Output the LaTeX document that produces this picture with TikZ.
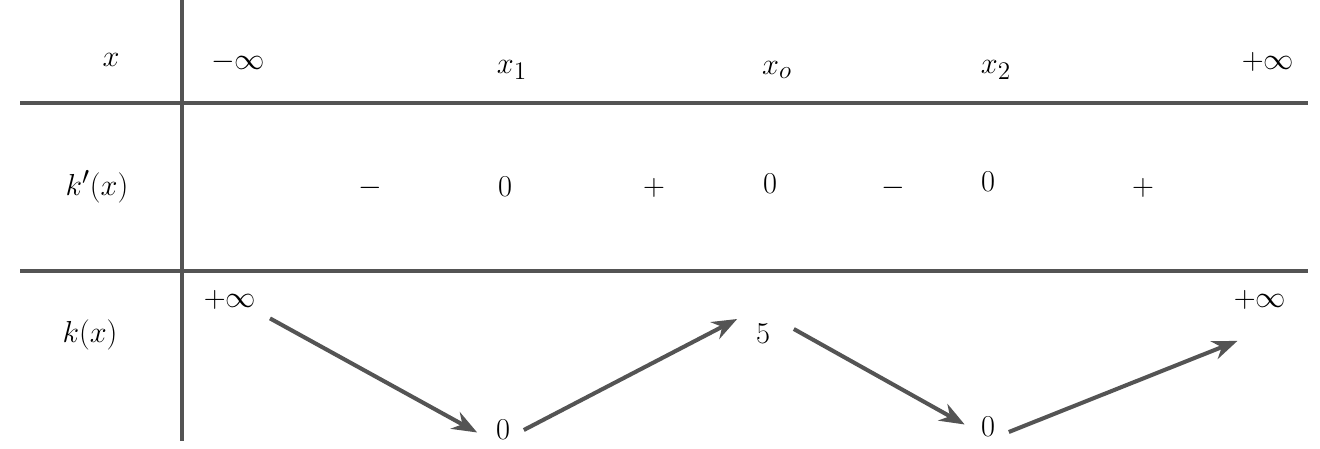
\documentclass[tikz,border=0pt]{standalone}
\usetikzlibrary{arrows.meta}
\begin{document}
\begin{tikzpicture}[x=0.02cm,y=-0.02cm,
  rule/.style={draw=black!67,line width=2.3pt},
  arr/.style={draw=black!67,line width=2.3pt,-{Stealth[length=0.5cm,width=0.38cm]}},
  lbl/.style={font=\fontsize{19}{22}\selectfont,inner sep=2pt}]
\useasboundingbox (0,0) rectangle (1320,449);
\draw[rule] (20,103) -- (1308,103);
\draw[rule] (20,271) -- (1308,271);
\draw[rule] (182,0) -- (182,441);
\node[lbl] (hx) at (111,60) {$x$};
\node[lbl] (minf) at (238,62) {$-\infty$};
\node[lbl] (x1) at (512,70) {$x_1$};
\node[lbl] (xo) at (777,70) {$x_o$};
\node[lbl] (x2) at (996,70) {$x_2$};
\node[lbl] (pinf) at (1268,62) {$+\infty$};
\node[lbl] (kp) at (97,187) {$k'(x)$};
\node[lbl] (s1) at (370,188) {$-$};
\node[lbl] (z1) at (505,187) {$0$};
\node[lbl] (s2) at (654,188) {$+$};
\node[lbl] (z2) at (770,184) {$0$};
\node[lbl] (s3) at (893,188) {$-$};
\node[lbl] (z3) at (988,182) {$0$};
\node[lbl] (s4) at (1143,188) {$+$};
\node[lbl] (k) at (90,335) {$k(x)$};
\node[lbl] (a) at (230,300) {$+\infty$};
\node[lbl] (b) at (503,430) {$0$};
\node[lbl] (c) at (763,334) {$5$};
\node[lbl] (d) at (988,427) {$0$};
\node[lbl] (e) at (1260,300) {$+\infty$};
\draw[arr] ([xshift=0.8cm,yshift=-0.1cm]a.south) -- ([xshift=-0.3cm,yshift=-0.05cm]b.west);
\draw[arr] ([xshift=0.2cm]b.east) -- ([xshift=-0.3cm,yshift=0.3cm]c.west);
\draw[arr] ([xshift=0.4cm,yshift=0.1cm]c.east) -- ([xshift=-0.25cm,yshift=0.05cm]d.west);
\draw[arr] ([xshift=0.2cm,yshift=-0.1cm]d.east) -- ([xshift=-0.45cm,yshift=-0.55cm]e.south);
\end{tikzpicture}
\end{document}
